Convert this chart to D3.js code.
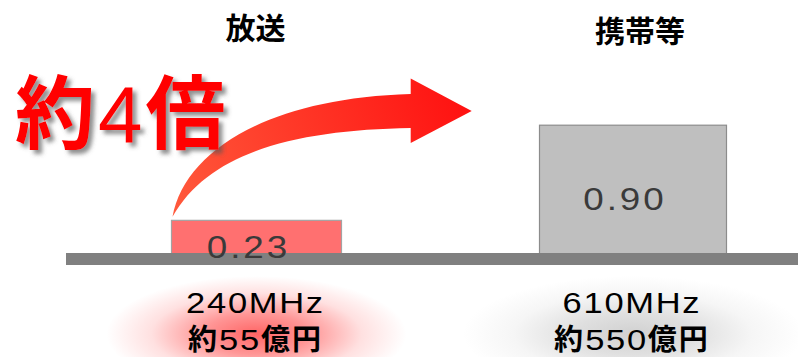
<!DOCTYPE html>
<html>
<head>
<meta charset="utf-8">
<script src="https://cdn.jsdelivr.net/npm/d3@7/dist/d3.min.js"></script>
<style>
  html, body { margin: 0; padding: 0; background: #ffffff; }
  svg { display: block; }
</style>
</head>
<body>
<svg id="chart" width="798" height="357"></svg>
<script>
// ---- data ----
const categories = ['放送', '携帯等'];
const values = [0.23, 0.90];
const bandLabels = ['240MHz', '610MHz'];
const costs = ['55', '550'];
const ratioLabel = ['約', '4', '倍'];

// ---- styles / layout ----
const W = 798, H = 357;
const CJK = '"Noto Sans CJK JP", "Noto Sans CJK SC", sans-serif';
const LATIN = '"Liberation Sans", Arial, sans-serif';
const barWidths = [170, 187];
const barFill = ['#ff7070', '#bfbfbf'];
const barStroke = ['#a3a3a3', '#8c8c8c'];
const glowColor = ['#ff4a4a', '#b4b4b4'];
const glowPeak = [0.85, 0.62];
const titleShift = [-1, 7];
const titleBaseline = [39, 42];

const svg = d3.select('#chart');
const defs = svg.append('defs');

const x = d3.scalePoint().domain(categories).range([256.5, 633]);
const y = d3.scaleLinear().domain([0, 1]).range([253, 111]);

// Draw a line of mixed-font runs centred on cx; each run may be widened with sx.
function drawRuns(parent, runs, cx, baseline) {
  const g = parent.append('g');
  const items = runs.map(r => {
    const t = g.append('text')
      .attr('font-family', r.family)
      .attr('font-size', r.size)
      .attr('font-weight', r.weight || 400)
      .attr('letter-spacing', r.ls || 0)
      .attr('fill', r.fill || '#000')
      .text(r.text);
    const w = t.node().getComputedTextLength() * (r.sx || 1);
    return { t, w, sx: r.sx || 1 };
  });
  const total = d3.sum(items, d => d.w);
  let cur = cx - total / 2;
  items.forEach(it => {
    it.t.attr('transform', `translate(${cur},${baseline}) scale(${it.sx},1)`);
    cur += it.w;
  });
  return g;
}

// ---- glows behind the bottom labels ----
categories.forEach((c, i) => {
  const gid = 'glow' + i;
  const rg = defs.append('radialGradient').attr('id', gid);
  [[0, 1], [0.35, 0.68], [0.7, 0.2], [1, 0]].forEach(([o, k]) => {
    rg.append('stop').attr('offset', o).attr('stop-color', glowColor[i]).attr('stop-opacity', glowPeak[i] * k);
  });
  svg.append('ellipse')
    .attr('cx', x(c))
    .attr('cy', 334)
    .attr('rx', i === 0 ? 150 : 170)
    .attr('ry', 58)
    .attr('fill', `url(#${gid})`);
});

// ---- bars ----
svg.append('g').selectAll('rect')
  .data(categories)
  .join('rect')
  .attr('x', (c, i) => x(c) - barWidths[i] / 2)
  .attr('y', (c, i) => y(values[i]))
  .attr('width', (c, i) => barWidths[i])
  .attr('height', (c, i) => y(0) - y(values[i]) + 2)
  .attr('fill', (c, i) => barFill[i])
  .attr('stroke', (c, i) => barStroke[i])
  .attr('stroke-width', 1.2);

// ---- baseline band ----
svg.append('rect')
  .attr('x', 66).attr('y', y(0))
  .attr('width', W - 66).attr('height', 12)
  .attr('fill', '#808080');

// ---- value labels ----
categories.forEach((c, i) => {
  const mid = (y(values[i]) + y(0)) / 2;
  drawRuns(svg, [{ text: d3.format('.2f')(values[i]), family: LATIN, size: 32, ls: 2.6, sx: 1.15, fill: '#3a3a3a' }],
    x(c) - 8, mid + 21);
});

// ---- category titles ----
categories.forEach((c, i) => {
  svg.append('text')
    .attr('x', x(c) + titleShift[i]).attr('y', titleBaseline[i])
    .attr('text-anchor', 'middle')
    .attr('font-family', CJK).attr('font-weight', 700)
    .attr('font-size', 30).attr('fill', '#000')
    .text(c);
});

// ---- bottom labels: band and cost ----
categories.forEach((c, i) => {
  drawRuns(svg, [{ text: bandLabels[i], family: LATIN, size: 30, ls: 1.5, sx: 1.15 }], x(c) - 1, 312.5);
  drawRuns(svg, [
    { text: '約', family: CJK, size: 29, weight: 700, ls: 2 },
    { text: costs[i], family: LATIN, size: 30, ls: 1.5, sx: 1.15 },
    { text: '億円', family: CJK, size: 29, weight: 700, ls: 2 }
  ], x(c) - 1, 350);
});

// ---- curved arrow from the first bar toward the second ----
const ag = defs.append('linearGradient').attr('id', 'arrowGrad')
  .attr('gradientUnits', 'userSpaceOnUse')
  .attr('x1', 172).attr('y1', 217).attr('x2', 472).attr('y2', 100);
ag.append('stop').attr('offset', '0%').attr('stop-color', '#ff5a3c');
ag.append('stop').attr('offset', '100%').attr('stop-color', '#ff1010');

const tail = [x(categories[0]) - barWidths[0] / 2 + 1, y(values[0]) - 3.5];
const tip = [471.7, y(1)];
const neck = tip[0] - 61;
const arrow = d3.path();
arrow.moveTo(tail[0], tail[1]);
arrow.bezierCurveTo(185, 150, 270, 98, neck, tip[1] - 17);
arrow.lineTo(neck, tip[1] - 32.5);
arrow.lineTo(tip[0], tip[1]);
arrow.lineTo(neck, tip[1] + 32);
arrow.lineTo(neck, tip[1] + 17);
arrow.bezierCurveTo(300, 130, 210, 150, tail[0], tail[1]);
arrow.closePath();
svg.append('path').attr('d', arrow.toString()).attr('fill', 'url(#arrowGrad)');

// ---- "約4倍" callout with soft drop shadow ----
const sh = defs.append('filter').attr('id', 'shadow')
  .attr('x', '-10%').attr('y', '-10%').attr('width', '130%').attr('height', '130%');
sh.append('feDropShadow').attr('dx', 4).attr('dy', 4).attr('stdDeviation', 2.2)
  .attr('flood-color', '#555').attr('flood-opacity', 0.65);

const callout = svg.append('text')
  .attr('x', 15).attr('y', 142)
  .attr('fill', '#ff0000')
  .attr('font-size', 80)
  .attr('letter-spacing', 3)
  .attr('filter', 'url(#shadow)');
callout.append('tspan').attr('font-family', CJK).attr('font-weight', 700).text(ratioLabel[0]);
callout.append('tspan').attr('font-family', LATIN).attr('font-weight', 400).text(ratioLabel[1]);
callout.append('tspan').attr('font-family', CJK).attr('font-weight', 700).text(ratioLabel[2]);
</script>
</body>
</html>
